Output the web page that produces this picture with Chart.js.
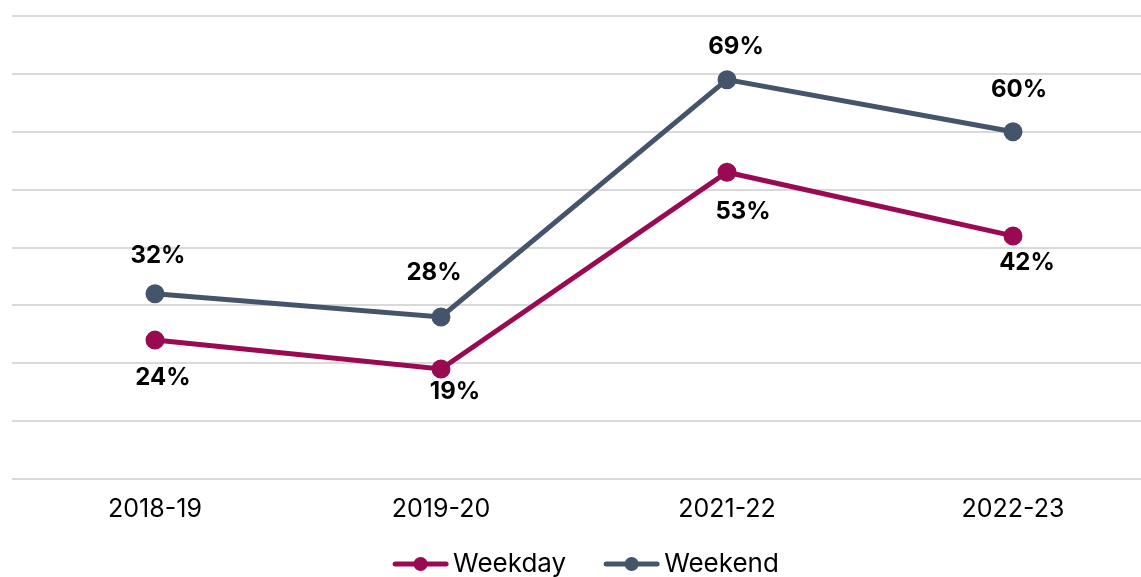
<!DOCTYPE html>
<html>
<head>
<meta charset="utf-8">
<script src="https://cdn.jsdelivr.net/npm/chart.js@4.4.1/dist/chart.umd.min.js"></script>
<style>
  html, body { margin: 0; padding: 0; background: #fff; overflow: hidden; }
  #wrap { width: 1168px; height: 577px; }
</style>
</head>
<body>
<div id="wrap"><canvas id="trendChart" width="1168" height="577" style="width:1168px;height:577px"></canvas></div>
<script>
// chart data
const years = ['2018-19', '2019-20', '2021-22', '2022-23'];
const weekday = [24, 19, 53, 42];
const weekend = [32, 28, 69, 60];
const yTicks = [0, 10, 20, 30, 40, 50, 60, 70, 80];

// where each % label sits relative to its point (px), like the hand placed labels in the original
const weekdayLabelNudge = [[8, 38], [14, 23], [16, 40], [14, 27]];
const weekendLabelNudge = [[3, -38], [-7, -44], [9, -33], [6, -42]];

const colWeekday = '#990a52';
const colWeekend = '#44546a';
const fontName = 'Inter, "Liberation Sans", Arial, sans-serif';

// % labels and a hand drawn legend at the bottom
const labelsPlugin = {
    id: 'pctLabels',
    afterDatasetsDraw: function (chart) {
        const ctx = chart.ctx;
        ctx.save();
        ctx.font = 'bold 24px ' + fontName;
        ctx.fillStyle = '#000';
        ctx.textAlign = 'center';
        ctx.textBaseline = 'middle';
        chart.data.datasets.forEach((ds, i) => {
            const meta = chart.getDatasetMeta(i);
            const nudge = ds.label === 'Weekend' ? weekendLabelNudge : weekdayLabelNudge;
            meta.data.forEach((pt, j) => {
                ctx.fillText(ds.data[j] + '%', pt.x + nudge[j][0], pt.y + nudge[j][1]);
            });
        });
        ctx.restore();
    },
    afterDraw: function (chart) {
        const ctx = chart.ctx;
        const lineW = 55, gapText = 5, gapItem = 38;
        ctx.save();
        ctx.font = '26px ' + fontName;
        ctx.textBaseline = 'middle';
        const items = chart.data.datasets.map(ds => ({
            ds: ds,
            w: lineW + gapText + ctx.measureText(ds.label).width
        }));
        let total = items.reduce((s, it) => s + it.w, 0) + gapItem * (items.length - 1);
        let x = 586 - total / 2;
        const cy = 564;
        items.forEach(it => {
            const c = it.ds.borderColor;
            ctx.strokeStyle = c;
            ctx.lineWidth = 5;
            ctx.lineCap = 'round';
            ctx.beginPath();
            ctx.moveTo(x + 2, cy);
            ctx.lineTo(x + lineW - 2, cy);
            ctx.stroke();
            ctx.fillStyle = c;
            ctx.beginPath();
            ctx.arc(x + lineW / 2, cy, 7, 0, Math.PI * 2);
            ctx.fill();
            ctx.fillStyle = '#000';
            ctx.textAlign = 'left';
            ctx.fillText(it.ds.label, x + lineW + gapText, cy);
            x += it.w + gapItem;
        });
        ctx.restore();
    }
};

const ctx = document.getElementById('trendChart').getContext('2d');
const trendChart = new Chart(ctx, {
    type: 'line',
    data: {
        labels: years,
        datasets: [{
            label: 'Weekday',
            data: weekday,
            borderColor: colWeekday,
            backgroundColor: colWeekday,
            borderWidth: 5,
            pointRadius: 7,
            pointHoverRadius: 7,
            tension: 0
        }, {
            label: 'Weekend',
            data: weekend,
            borderColor: colWeekend,
            backgroundColor: colWeekend,
            borderWidth: 5,
            pointRadius: 7,
            pointHoverRadius: 7,
            tension: 0
        }]
    },
    options: {
        responsive: false,
        animation: false,
        layout: {
            padding: { top: 16, left: 12, right: 0, bottom: 46 }
        },
        plugins: {
            legend: { display: false },
            tooltip: { enabled: false }
        },
        scales: {
            x: {
                offset: true,
                grid: { display: false },
                border: { display: false },
                ticks: {
                    color: '#000',
                    padding: 7,
                    font: { family: fontName, size: 25 }
                }
            },
            y: {
                min: yTicks[0],
                max: yTicks[yTicks.length - 1],
                afterBuildTicks: function (scale) {
                    scale.ticks = yTicks.map(v => ({ value: v }));
                },
                grid: {
                    color: '#d9d9d9',
                    lineWidth: 2,
                    drawTicks: false
                },
                border: { display: false },
                ticks: { display: false }
            }
        }
    },
    plugins: [labelsPlugin]
});
</script>
</body>
</html>
